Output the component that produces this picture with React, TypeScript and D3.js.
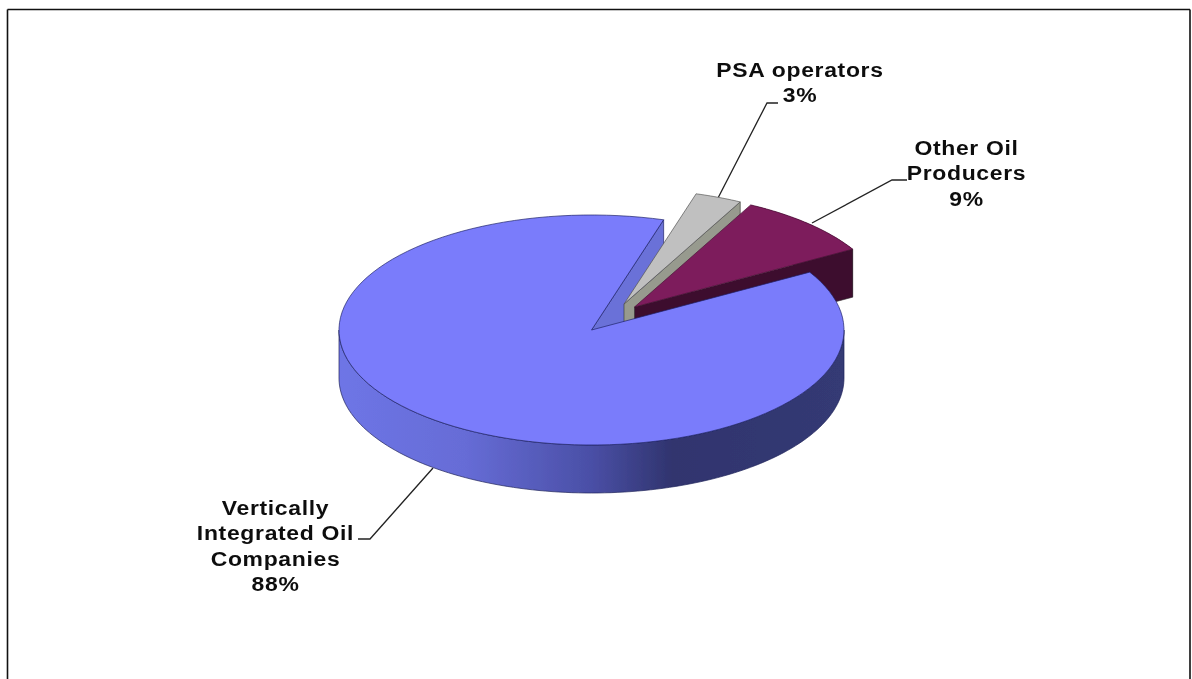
import React from "react";
import * as d3 from "d3";

const categories = ["PSA operators", "Other Oil Producers", "Vertically Integrated Oil Companies"];
const shares = [3, 9, 88];
const labelLines = [["PSA operators", "3%"], ["Other Oil", "Producers", "9%"], ["Vertically", "Integrated Oil", "Companies", "88%"]];
const topColors = ["#c0c0c0", "#7d1c5b", "#7a7cfb"];
const cutColors = ["#979a8e", "#3c0c2e", "#6a71d8"];

const W = 1192, H = 679;
const cx = 591.5, cy = 330, rx = 252.5, ry = 115, depth = 48;
const startDeg = 16.6;
const offsets = [[32.5, -26], [43, -23], [0, 0]];
const labelPos = [[800, 77], [966.5, 155], [275.5, 515]];
const leaders = [
  [[718, 198], [767, 103], [778, 103]],
  [[812, 223], [892, 180], [907, 180]],
  [[433, 468], [370, 539], [358, 539]],
];

const toRad = (d: number) => (d * Math.PI) / 180;

export default function App() {
  const arcs = d3.pie<number>().sort(null).startAngle(toRad(startDeg)).endAngle(toRad(startDeg + 360))(shares);
  const pt = (a: number, i: number, dz = 0): [number, number] => [
    cx + offsets[i][0] + rx * Math.sin(a),
    cy + offsets[i][1] + dz - ry * Math.cos(a),
  ];
  const line = d3.line();
  const range = (a0: number, a1: number) => d3.range(0, 121).map((k) => a0 + ((a1 - a0) * k) / 120);
  const centre = (i: number): [number, number] => [cx + offsets[i][0], cy + offsets[i][1]];
  const top = (i: number) => {
    const a = arcs[i];
    return line([centre(i), ...range(a.startAngle, a.endAngle).map((t) => pt(t, i))]) + "Z";
  };
  const rim = (i: number, a0: number, a1: number) =>
    line([...range(a0, a1).map((t) => pt(t, i)), ...range(a1, a0).map((t) => pt(t, i, depth))]) + "Z";
  const cut = (i: number, a: number) => {
    const c = centre(i);
    return line([c, pt(a, i), pt(a, i, depth), [c[0], c[1] + depth]]) + "Z";
  };
  const mainEnd = arcs[2];
  const text: React.CSSProperties = { fontFamily: "'Liberation Sans', Arial, sans-serif", fontWeight: 700, fontSize: 20.5, letterSpacing: 0.6, fill: "#111" };

  return (
    <svg width={W} height={H} style={{ position: "absolute", left: 0, top: 0, background: "#fff" }}>
      <defs>
        <linearGradient id="rimGrad" gradientUnits="userSpaceOnUse" x1={cx - rx} x2={cx + rx} y1={0} y2={0}>
          <stop offset="0" stopColor="#6e75e6" />
          <stop offset="0.25" stopColor="#666cd6" />
          <stop offset="0.5" stopColor="#4a4fa6" />
          <stop offset="0.66" stopColor="#30346e" />
          <stop offset="1" stopColor="#343a74" />
        </linearGradient>
        <filter id="soft" x="-5%" y="-5%" width="110%" height="110%">
          <feGaussianBlur stdDeviation="0.45" />
        </filter>
      </defs>
      <path d={`M7.5 9.5H1190M7.5 9.5V${H}M1190 9.5V${H}`} fill="none" stroke="#111" strokeWidth={1.6} />
      <g filter="url(#soft)">
        {leaders.map((l, i) => (
          <path key={i} d={line(l as [number, number][]) || ""} fill="none" stroke="#222" strokeWidth={1.3} />
        ))}
        {/* main slice cut face */}
        <path d={cut(2, mainEnd.endAngle)} fill={cutColors[2]} stroke="#20246a" strokeWidth={0.7} />
        {/* exploded slices */}
        {[0, 1].map((i) => (
          <g key={categories[i]}>
            <path d={rim(i, arcs[i].startAngle, arcs[i].endAngle)} fill={cutColors[i]} />
            <path d={cut(i, arcs[i].endAngle)} fill={cutColors[i]} stroke="#333" strokeWidth={0.6} />
            <path d={top(i)} fill={topColors[i]} stroke={i === 0 ? "#555" : "#4a1038"} strokeWidth={0.7} />
          </g>
        ))}
        {/* main slice rim and face */}
        <path d={rim(2, Math.PI / 2, (3 * Math.PI) / 2)} fill="url(#rimGrad)" stroke="#20245a" strokeWidth={0.7} />
        <path d={top(2)} fill={topColors[2]} stroke="#20246a" strokeWidth={0.7} />
        {labelLines.map((ls, i) => (
          <text key={i} textAnchor="middle" style={text} transform={`translate(${labelPos[i][0]},${labelPos[i][1]}) scale(1.12,1)`}>
            {ls.map((t, j) => (
              <tspan key={j} x={0} y={j * 25.3}>{t}</tspan>
            ))}
          </text>
        ))}
      </g>
    </svg>
  );
}
